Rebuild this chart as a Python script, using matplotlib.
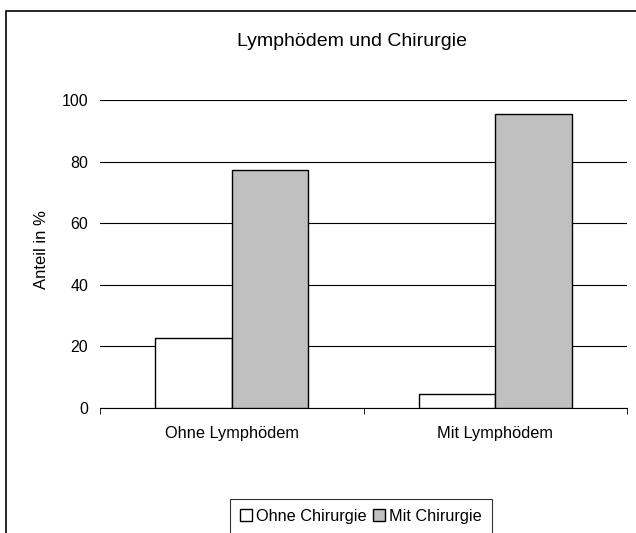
import matplotlib.pyplot as plt
import matplotlib.patches as patches
import numpy as np

plt.rcParams['font.family'] = ['Liberation Sans', 'DejaVu Sans']

categories = ["Ohne Lymphödem", "Mit Lymphödem"]
ohne_chirurgie = [22.7, 4.5]
mit_chirurgie = [77.3, 95.5]
y_ticks = [0, 20, 40, 60, 80, 100]

fig = plt.figure(figsize=(6.36, 5.33), dpi=100)
ax = fig.add_axes([100 / 636, 1 - 408 / 533, 527 / 636, 308 / 533])

x = np.arange(len(categories))
w = 0.29
ax.bar(x - w / 2, ohne_chirurgie, w, color="white", edgecolor="black", linewidth=1,
       label="Ohne Chirurgie", zorder=3)
ax.bar(x + w / 2, mit_chirurgie, w, color="#c0c0c0", edgecolor="black", linewidth=1,
       label="Mit Chirurgie", zorder=3)

ax.set_xlim(-0.5, 1.5)
ax.set_ylim(0, 100)
ax.set_yticks(y_ticks)
ax.set_xticks(x)
ax.set_xticklabels(categories, fontsize=11.8)
ax.set_xticks([-0.5, 0.5, 1.5], minor=True)
ax.tick_params(axis='x', which='major', length=0, pad=13)
ax.tick_params(axis='x', which='minor', length=4, direction='out', color='black')
ax.tick_params(axis='y', length=0, labelsize=11.5, pad=8.5)
ax.grid(axis='y', color='black', linewidth=0.8, zorder=0)
for s in ['top', 'right', 'left']:
    ax.spines[s].set_visible(False)
ax.spines['bottom'].set_color('black')

fig.text(41 / 636, 1 - 250 / 533, "Anteil in %", rotation=90, ha='center', va='center', fontsize=12)
fig.text(352 / 636, 1 - 42 / 533, "Lymphödem und Chirurgie", ha='center', va='center', fontsize=14)

frame = patches.Rectangle((6 / 636, -0.05), 1.1, 1 - 11 / 533 + 0.05, transform=fig.transFigure,
                          fill=False, edgecolor='black', linewidth=1.2)
fig.patches.append(frame)

leg = fig.legend(loc='upper center', bbox_to_anchor=(361 / 636, 1 - 499 / 533), ncol=2,
                 frameon=True, fancybox=False, edgecolor='black', fontsize=11.7,
                 handlelength=0.75, handleheight=0.75, handletextpad=0.25, columnspacing=0.4,
                 borderpad=0.6, borderaxespad=0)
leg.get_frame().set_linewidth(0.8)

fig.savefig("out.png", dpi=100)
